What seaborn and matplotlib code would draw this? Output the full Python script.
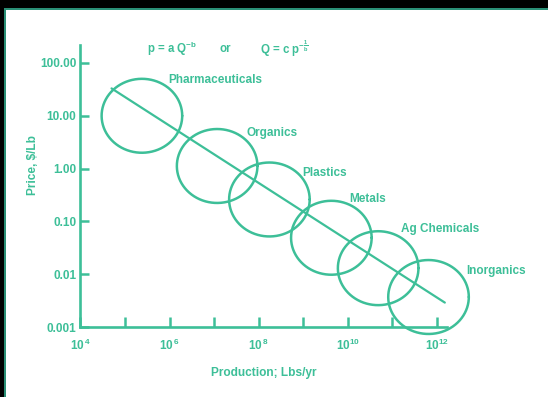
import numpy as np
import pandas as pd
import matplotlib
matplotlib.use("Agg")
import matplotlib.pyplot as plt
from matplotlib.patches import Rectangle
from matplotlib.ticker import FixedLocator, FixedFormatter, NullLocator
import seaborn as sns

# Product classes: typical annual production (lbs/yr) and price ($/lb)
products = ["Pharmaceuticals", "Organics", "Plastics", "Metals", "Ag Chemicals", "Inorganics"]
production = [2.4e5, 1.17e7, 1.74e8, 4.27e9, 4.79e10, 6.46e11]
price = [10.0, 1.12, 0.26, 0.049, 0.013, 0.0037]

# End points of the fitted power law p = a Q^-b
fit_production = [5.0e4, 1.5e12]
fit_price = [33.0, 0.0029]

# Axis ticks
y_ticks = [100, 10, 1, 0.1, 0.01, 0.001]
y_tick_labels = ["100.00", "10.00", "1.00", "0.10", "0.01", "0.001"]
x_ticks = [1e4, 1e5, 1e6, 1e7, 1e8, 1e9, 1e10, 1e11, 1e12]
x_tick_labels = [r"$10^{\,4}$", "", r"$10^{\,6}$", "", r"$10^{\,8}$", "",
                 r"$10^{10}$", "", r"$10^{12}$"]

TEAL = "#3dbf98"
EDGE = "#2a8f76"

sns.set_theme(style="white")
plt.rcParams.update({
    "font.family": ["Liberation Sans", "DejaVu Sans"],
    "font.weight": "bold",
    "mathtext.fontset": "custom",
    "mathtext.rm": "Liberation Sans:bold",
    "mathtext.it": "Liberation Sans:bold",
    "mathtext.bf": "Liberation Sans:bold",
    "mathtext.sf": "Liberation Sans:bold",
})

fig = plt.figure(figsize=(5.48, 3.97), dpi=100, facecolor="white")
ax = fig.add_axes([0.1467, 0.1763, 0.669, 0.7103])
ax.set_facecolor("white")
ax.set_xscale("log")
ax.set_yscale("log")

# Ellipses around each product class (drawn in decade units)
rx, ry = 0.904, 0.70
t = np.linspace(0, 2 * np.pi, 240)
frames = []
for name, q, p in zip(products, production, price):
    frames.append(pd.DataFrame({
        "product": name,
        "Q": 10 ** (np.log10(q) + rx * np.cos(t)),
        "P": 10 ** (np.log10(p) + ry * np.sin(t)),
    }))
rings = pd.concat(frames, ignore_index=True)
sns.lineplot(data=rings, x="Q", y="P", units="product", estimator=None,
             sort=False, color=TEAL, lw=1.8, ax=ax)

# Fitted trend line
sns.lineplot(x=fit_production, y=fit_price, color=TEAL, lw=1.6, ax=ax)
for line in ax.lines:
    line.set_clip_on(False)

# Class labels, offset from each ellipse centre
label_offsets = [(18.9, 25.6), (21.4, 23.8), (23.9, 19.2),
                 (13.0, 27.9), (16.8, 28.4), (27.1, 18.5)]
for name, q, p, off in zip(products, production, price, label_offsets):
    ax.annotate(name, xy=(q, p), xytext=off, textcoords="offset points",
                ha="left", va="center", color=TEAL, fontsize=8.5,
                fontweight="bold", annotation_clip=False)

ax.set_xlim(1e4, 10 ** 12.225)
ax.set_ylim(1e-3, 10 ** 2.34)

ax.xaxis.set_major_locator(FixedLocator(x_ticks))
ax.xaxis.set_major_formatter(FixedFormatter(x_tick_labels))
ax.yaxis.set_major_locator(FixedLocator(y_ticks))
ax.yaxis.set_major_formatter(FixedFormatter(y_tick_labels))
ax.xaxis.set_minor_locator(NullLocator())
ax.yaxis.set_minor_locator(NullLocator())

for side in ["top", "right"]:
    ax.spines[side].set_visible(False)
for side in ["left", "bottom"]:
    ax.spines[side].set_color(TEAL)
    ax.spines[side].set_linewidth(1.9)
    ax.spines[side].set_zorder(3)

ax.tick_params(axis="y", direction="in", length=6.5, width=1.8, color=TEAL,
               labelcolor=TEAL, labelsize=8.5, pad=3, left=True)
ax.tick_params(axis="x", direction="in", length=7.5, width=1.8, color=TEAL,
               labelcolor=TEAL, labelsize=8.5, pad=8, bottom=True)
for lab in ax.get_xticklabels() + ax.get_yticklabels():
    lab.set_fontweight("bold")

ax.set_xlabel("Production; Lbs/yr", color=TEAL, fontsize=8.6, fontweight="bold")
ax.xaxis.label.set_va("center")
ax.xaxis.set_label_coords(0.501, -0.163)
ax.set_ylabel(r"Price, \$/Lb", color=TEAL, fontsize=8.6, fontweight="bold")
ax.yaxis.label.set_va("center")
ax.yaxis.set_label_coords(-0.129, 0.574)

# Power-law relation above the plot
eq_y = 1 - 49 / 397
fig.text(147 / 548, eq_y, r"p = a Q$^{-b}$", color=TEAL, fontsize=8.3,
         fontweight="bold", ha="left", va="center")
fig.text(220 / 548, eq_y, "or", color=TEAL, fontsize=8.3,
         fontweight="bold", ha="left", va="center")
fig.text(260 / 548, eq_y, r"Q = c p$^{-\frac{1}{b}}$", color=TEAL, fontsize=8.3,
         fontweight="bold", ha="left", va="center")

# Dark frame along the top and left edges
W, H = 548, 397
fig.patches.append(Rectangle((0, 1 - 8 / H), 1, 8 / H, transform=fig.transFigure,
                             facecolor="black", edgecolor="none", zorder=10))
fig.patches.append(Rectangle((0, 0), 4 / W, 1, transform=fig.transFigure,
                             facecolor="black", edgecolor="none", zorder=10))
fig.patches.append(Rectangle((4 / W, 1 - 10 / H), 1, 2 / H, transform=fig.transFigure,
                             facecolor=EDGE, edgecolor="none", zorder=10))
fig.patches.append(Rectangle((4 / W, 0), 2 / W, 1 - 8 / H, transform=fig.transFigure,
                             facecolor=EDGE, edgecolor="none", zorder=10))

fig.savefig("out.png", dpi=100, facecolor=fig.get_facecolor())
